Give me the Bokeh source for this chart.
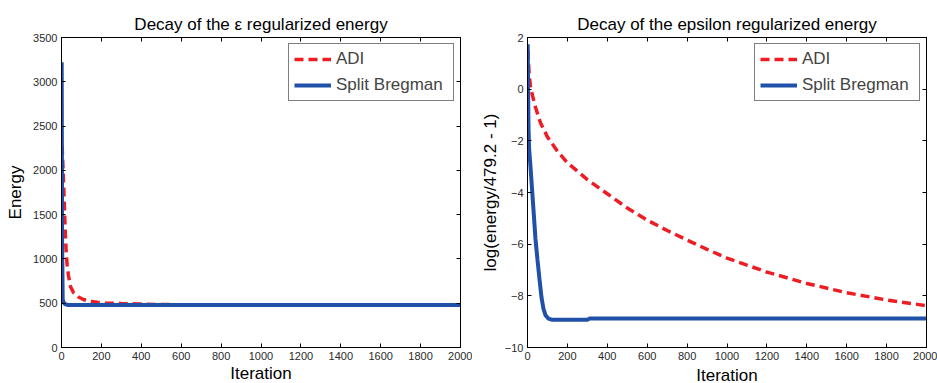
from bokeh.plotting import figure
from bokeh.models import LinearAxis, FixedTicker, Range1d
from bokeh.layouts import row
from bokeh.embed import file_html
from bokeh.resources import INLINE

# ---- data ----
iteration_ticks = [0, 200, 400, 600, 800, 1000, 1200, 1400, 1600, 1800, 2000]
energy_ticks = [0, 500, 1000, 1500, 2000, 2500, 3000, 3500]
log_ticks = [-10, -8, -6, -4, -2, 0, 2]

# left panel: energy
adi_energy_iter = [3, 8, 13, 18, 23, 28, 35, 45, 60, 85, 110, 135, 180, 220, 300, 380, 500, 700, 1000, 2000]
adi_energy = [2280, 2000, 1700, 1350, 1100, 940, 810, 690, 620, 570, 542, 525, 510, 503, 497, 492, 485, 481, 480, 479.5]
sb_energy_iter = [1, 3, 6, 10, 18, 30, 60, 2000]
sb_energy = [3220, 1200, 545, 510, 490, 480, 479, 479]

# right panel: log(energy/479.2 - 1)
adi_log_iter = [2, 8, 15, 25, 40, 65, 100, 150, 200, 300, 400, 500, 600, 700, 800, 900, 1000, 1200, 1400, 1600, 1800, 2000]
adi_log = [1.5, 0.6, 0.1, -0.25, -0.7, -1.3, -1.85, -2.4, -2.85, -3.5, -4.05, -4.6, -5.07, -5.47, -5.84, -6.2, -6.54, -7.08, -7.52, -7.88, -8.16, -8.38]
sb_log_iter = [1, 3, 5, 8, 15, 23, 32, 40, 50, 60, 70, 80, 90, 105, 125, 300, 310, 2000]
sb_log = [1.74, 0.0, -1.5, -2.3, -3.0, -3.9, -4.9, -5.8, -6.6, -7.35, -8.05, -8.5, -8.75, -8.88, -8.93, -8.93, -8.88, -8.88]

RED = "#ee1d24"
BLUE = "#2150a8"
FONT = "Liberation Sans"


def make_fig(title, ylabel, yr, yticks, xs_adi, ys_adi, xs_sb, ys_sb,
             bl, br, bt, bb, ylab_standoff, xlab_standoff):
    p = figure(frame_width=399, frame_height=310, output_backend="svg", toolbar_location=None,
               x_range=Range1d(0, 2000), y_range=Range1d(*yr),
               min_border_left=bl, min_border_right=br, min_border_top=bt, min_border_bottom=bb)
    p.title.text = title
    p.title.text_font = FONT
    p.title.text_font_size = "17px"
    p.title.text_font_style = "normal"
    p.title.align = "center"
    p.title.text_color = "black"
    p.title.standoff = 8
    p.xgrid.visible = False
    p.ygrid.visible = False
    p.outline_line_color = "black"
    p.outline_line_width = 1
    p.outline_line_alpha = 1
    p.background_fill_color = "white"
    p.border_fill_color = "white"

    p.line(xs_adi, ys_adi, color=RED, line_width=3.5, line_dash="9 5", legend_label="ADI")
    p.line(xs_sb, ys_sb, color=BLUE, line_width=4, legend_label="Split Bregman")

    for ax, ticks in ((p.xaxis[0], iteration_ticks), (p.yaxis[0], yticks)):
        ax.ticker = FixedTicker(ticks=ticks)
        ax.minor_tick_line_color = None
        ax.major_tick_in = 4
        ax.major_tick_out = 0
        ax.axis_line_color = "black"
        ax.major_tick_line_color = "black"
        ax.major_label_text_font = FONT
        ax.major_label_text_font_size = "11px"
        ax.major_label_text_color = "#2a2a2a"
        ax.axis_label_text_font = FONT
        ax.axis_label_text_font_size = "17px"
        ax.axis_label_text_font_style = "normal"
        ax.axis_label_text_color = "black"
    p.xaxis.axis_label = "Iteration"
    p.yaxis.axis_label = ylabel
    p.xaxis.major_label_standoff = 4
    p.xaxis.axis_label_standoff = xlab_standoff
    p.yaxis.major_label_standoff = 4
    p.yaxis.axis_label_standoff = ylab_standoff

    for loc, ticks in (("above", iteration_ticks), ("right", yticks)):
        ax = LinearAxis(ticker=FixedTicker(ticks=ticks))
        ax.minor_tick_line_color = None
        ax.major_tick_in = 4
        ax.major_tick_out = 0
        ax.major_label_text_font_size = "1px"
        ax.major_label_text_color = None
        ax.major_label_standoff = 0
        ax.axis_label_standoff = 0
        ax.axis_line_color = "black"
        p.add_layout(ax, loc)

    lg = p.legend[0]
    lg.location = "top_right"
    lg.margin = 6
    lg.padding = 5
    lg.spacing = 6
    lg.label_text_font = FONT
    lg.label_text_font_size = "17px"
    lg.label_height = 16
    lg.glyph_height = 16
    lg.glyph_width = 37
    lg.label_width = 112
    lg.label_standoff = 5
    lg.border_line_color = "black"
    lg.border_line_width = 1
    lg.background_fill_color = "white"
    lg.background_fill_alpha = 1
    return p


left = make_fig("Decay of the \u03b5 regularized energy", "Energy", (0, 3500), energy_ticks,
                adi_energy_iter, adi_energy, sb_energy_iter, sb_energy,
                bl=61, br=12, bt=37, bb=36, ylab_standoff=5, xlab_standoff=1)
right = make_fig("Decay of the epsilon regularized energy", "log(energy/479.2 - 1)", (-10, 2), log_ticks,
                 adi_log_iter, adi_log, sb_log_iter, sb_log,
                 bl=55, br=11, bt=34, bb=39, ylab_standoff=2, xlab_standoff=3)

layout = row(left, right)
open("out.html", "w").write(file_html(layout, INLINE))
